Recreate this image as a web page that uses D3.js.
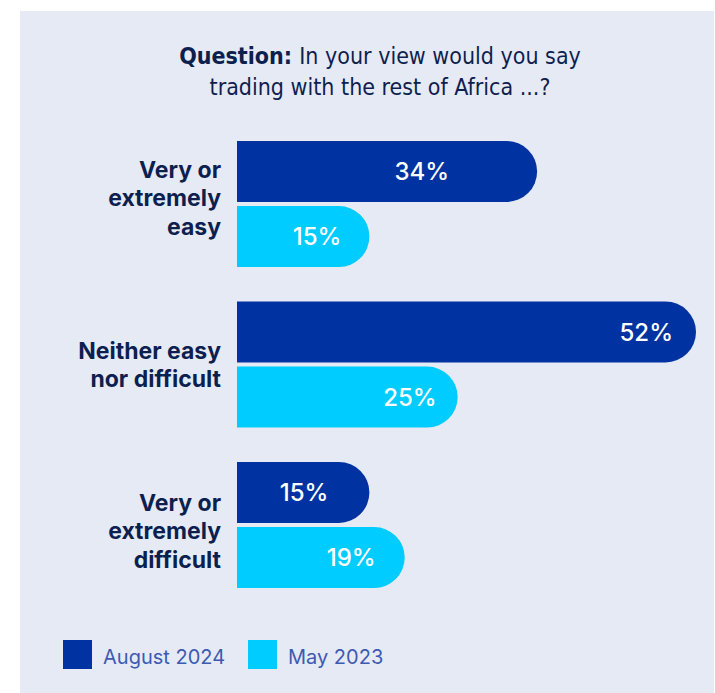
<!DOCTYPE html>
<html>
<head>
<meta charset="utf-8">
<script src="https://cdn.jsdelivr.net/npm/d3@7"></script>
<style>
  html, body { margin: 0; padding: 0; background: #ffffff; }
  svg { display: block; }
</style>
</head>
<body>
<svg id="chart" width="715" height="693"></svg>
<script>
// Survey answers, share of respondents (%)
const categories = [
  ["Very or", "extremely", "easy"],
  ["Neither easy", "nor difficult"],
  ["Very or", "extremely", "difficult"]
];
const seriesNames = ["August 2024", "May 2023"];
const august2024 = [34, 52, 15];
const may2023 = [15, 25, 19];
const titleBold = "Question:";
const titleRest = ["In your view would you say", "trading with the rest of Africa ...?"];

const colors = ["#0033a1", "#00ccff"];
const navy = "#0d1f4f";
const W = 715, H = 693;

const svg = d3.select("#chart");

// panel background
svg.append("rect")
  .attr("x", 20).attr("y", 11)
  .attr("width", W - 21).attr("height", H - 11)
  .attr("fill", "#e6eaf5");

// title
const titleFont = "'Liberation Sans Narrow', 'DejaVu Sans Condensed', 'Roboto Condensed', sans-serif";
const title = svg.append("text")
  .attr("x", 380).attr("y", 64)
  .attr("text-anchor", "middle")
  .attr("font-family", titleFont)
  .attr("font-size", 23)
  .attr("fill", navy);
title.append("tspan").attr("font-weight", 700).text(titleBold + " ");
title.append("tspan").text(titleRest[0]);
svg.append("text")
  .attr("x", 380).attr("y", 95)
  .attr("text-anchor", "middle")
  .attr("font-family", titleFont)
  .attr("font-size", 23)
  .attr("fill", navy)
  .text(titleRest[1]);

// scales
const x0 = 237;
const x = d3.scaleLinear().domain([0, 52]).range([x0, 696]);
const y = d3.scaleBand()
  .domain(d3.range(categories.length))
  .range([141, 588])
  .paddingInner(34.5 / 160.5)
  .paddingOuter(0);
const ySub = d3.scaleBand().domain(d3.range(seriesNames.length))
  .range([0, y.bandwidth()]).paddingInner(4 / 63);

// bar with square left end and fully rounded right end
function barPath(x1, yTop, h) {
  const r = h / 2;
  const w = x1 - x0;
  const rr = Math.min(r, w);
  return `M${x0},${yTop}H${x1 - rr}A${rr},${r} 0 0 1 ${x1},${yTop + r}` +
         `A${rr},${r} 0 0 1 ${x1 - rr},${yTop + h}H${x0}Z`;
}

const series = [august2024, may2023];
// distance from bar end to the right edge of its value label
const labelInset = [[88, 23, 41], [28, 21, 29]];
// category labels are spread slightly wider than the bar groups
const catShift = [-6, 0, 6];

const groups = svg.selectAll("g.cat")
  .data(categories)
  .join("g")
  .attr("class", "cat")
  .attr("transform", (d, i) => `translate(0,${y(i)})`);

groups.each(function (lines, ci) {
  const g = d3.select(this);
  series.forEach((vals, si) => {
    const v = vals[ci];
    const top = ySub(si);
    const h = ySub.bandwidth();
    g.append("path")
      .attr("d", barPath(x(v), top, h))
      .attr("fill", colors[si]);
    g.append("text")
      .attr("x", x(v) - labelInset[si][ci])
      .attr("y", top + h / 2)
      .attr("dy", "0.36em")
      .attr("text-anchor", "end")
      .attr("font-family", "Inter, 'Noto Sans', sans-serif")
      .attr("font-weight", 500)
      .attr("font-size", 24)
      .attr("fill", "#ffffff")
      .text(v + "%");
  });
  // category label, vertically centred on the group
  const lh = 28.5;
  const cy = y.bandwidth() / 2 + catShift[ci];
  const t = g.append("text")
    .attr("text-anchor", "end")
    .attr("font-family", "Inter, 'Noto Sans', sans-serif")
    .attr("font-weight", 700)
    .attr("font-size", 23)
    .attr("fill", navy);
  lines.forEach((ln, li) => {
    t.append("tspan")
      .attr("x", 221)
      .attr("y", cy + (li - (lines.length - 1) / 2) * lh)
      .attr("dy", "0.36em")
      .text(ln);
  });
});

// legend
const legend = svg.append("g").attr("transform", "translate(63,640)");
const legendX = [0, 185];
seriesNames.forEach((name, i) => {
  const lg = legend.append("g").attr("transform", `translate(${legendX[i]},0)`);
  lg.append("rect").attr("width", 29).attr("height", 29).attr("fill", colors[i]);
  lg.append("text")
    .attr("x", 40).attr("y", 24)
    .attr("font-family", "Inter, 'Noto Sans', sans-serif")
    .attr("font-size", 20)
    .attr("fill", "#3d5ab3")
    .text(name);
});
</script>
</body>
</html>
